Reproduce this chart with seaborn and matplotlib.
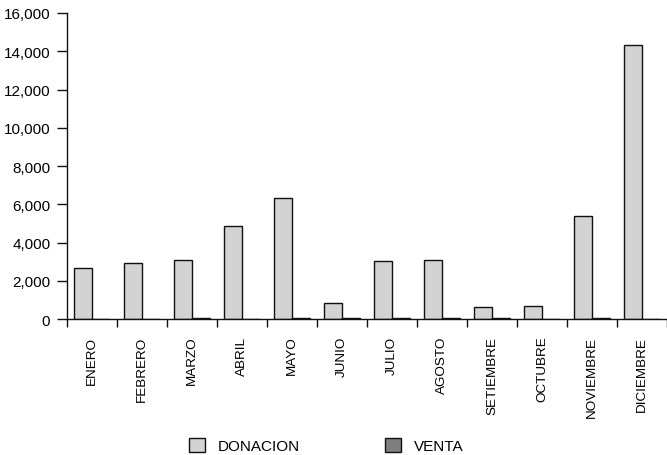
import numpy as np
import pandas as pd
import seaborn as sns
import matplotlib.pyplot as plt
from matplotlib.ticker import FuncFormatter, FixedLocator

meses = ['ENERO', 'FEBRERO', 'MARZO', 'ABRIL', 'MAYO', 'JUNIO', 'JULIO',
         'AGOSTO', 'SETIEMBRE', 'OCTUBRE', 'NOVIEMBRE', 'DICIEMBRE']
donacion = [2680, 2910, 3070, 4880, 6330, 850, 3030, 3100, 640, 660, 5390, 14330]
venta = [0, 0, 40, 0, 40, 70, 40, 40, 40, 0, 70, 0]
series = ['DONACION', 'VENTA']
colores = ['#d3d3d3', '#7f7f7f']

df = pd.DataFrame({
    'mes': meses * 2,
    'valor': donacion + venta,
    'serie': [series[0]] * len(meses) + [series[1]] * len(meses),
})

sns.set_style('white', {'text.color': 'black', 'xtick.color': 'black',
                        'ytick.color': 'black'})
plt.rcParams['font.family'] = ['Liberation Sans', 'DejaVu Sans']

fig = plt.figure(figsize=(6.67, 4.56), dpi=100)
ax = fig.add_axes([0.1004, 0.2982, 0.8996, 0.6711])

sns.barplot(data=df, x='mes', y='valor', hue='serie', order=meses,
            hue_order=series, palette=colores, width=0.72, gap=0,
            edgecolor='#111111', linewidth=1, saturation=1, ax=ax,
            legend=True)

ax.set_ylim(0, 16000)
ax.set_xlim(-0.5, len(meses) - 0.5)
ax.set_yticks(np.arange(0, 16001, 2000))
ax.yaxis.set_major_formatter(FuncFormatter(lambda v, p: f'{int(v):,}'))
ax.tick_params(axis='y', labelsize=11, length=7, width=1, color='#111111',
               left=True, pad=5, labelcolor='black')

ax.set_xticks(range(len(meses)))
ax.set_xticklabels(meses, rotation=90, fontsize=9.7)
ax.tick_params(axis='x', which='major', length=0, pad=12, labelcolor='black')
ax.xaxis.set_minor_locator(FixedLocator(np.arange(-0.5, len(meses), 1.0)))
ax.tick_params(axis='x', which='minor', length=6, width=1, color='#111111',
               bottom=True)

ax.set_xlabel('')
ax.set_ylabel('')
for s in ['top', 'right']:
    ax.spines[s].set_visible(False)
for s in ['left', 'bottom']:
    ax.spines[s].set_color('#111111')
    ax.spines[s].set_linewidth(1)

handles, labels = ax.get_legend_handles_labels()
ax.get_legend().remove()
fig.legend(handles, labels, loc='center', bbox_to_anchor=(0.489, 0.021),
           ncol=2, frameon=False, fontsize=11, handlelength=1.05,
           handleheight=1.05, columnspacing=5.6, handletextpad=0.8,
           borderpad=0, borderaxespad=0)

fig.savefig('out.png', dpi=100)
